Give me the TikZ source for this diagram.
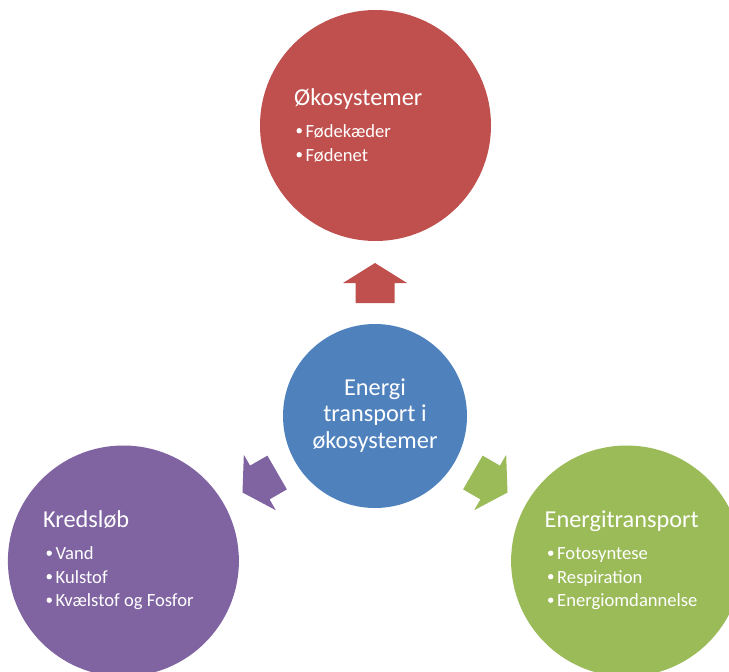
\documentclass[tikz,border=0pt]{standalone}
\usepackage{fontspec}
\setmainfont{Carlito}
\definecolor{cred}{HTML}{C0504D}
\definecolor{cblue}{HTML}{4F81BD}
\definecolor{cpurple}{HTML}{8064A2}
\definecolor{cgreen}{HTML}{9BBB59}
\begin{document}
\begin{tikzpicture}[x=1pt,y=-1pt,
  bubble/.style={circle,inner sep=0pt,outer sep=0pt,draw=none},
  bigbubble/.style={bubble,minimum size=231pt},
  ttl/.style={anchor=base west,text=white,inner sep=0pt,font=\fontsize{24.3}{27}\selectfont},
  itm/.style={anchor=base west,text=white,inner sep=0pt,font=\fontsize{18.6}{24}\selectfont},
  ctr/.style={anchor=base,text=white,inner sep=0pt,font=\fontsize{24.3}{27}\selectfont},
  dot/.style={fill=white}]
\useasboundingbox (0,0) rectangle (729,672);
\clip (0,0) rectangle (729,672);
% circles
\node[bubble,minimum size=184pt,fill=cblue] (hub) at (375,416) {};
\node[bigbubble,fill=cred] (top) at (375.5,125.5) {};
\node[bigbubble,fill=cpurple] (left) at (123.4,561) {};
\node[bigbubble,fill=cgreen] (right) at (626.6,561) {};
% block arrows
\foreach \ang/\col in {90/cred,210/cpurple,330/cgreen}{
  \begin{scope}[shift={(hub.center)},rotate=\ang]
    \fill[\col] (113,-19.5) -- (133,-19.5) -- (133,-32) -- (153,0) -- (133,32) -- (133,19.5) -- (113,19.5) -- cycle;
  \end{scope}
}
% hub text
\node[ctr] (h1) at (375,395) {Energi};
\node[ctr] (h2) at (375,421.5) {transport i};
\node[ctr] (h3) at (375,448) {økosystemer};
% top circle text
\node[ttl] (t0) at (294,105) {Økosystemer};
\node[itm] (t1) at (305.5,137) {Fødekæder};
\node[itm] (t2) at (305.5,161) {Fødenet};
% left circle text
\node[ttl] (l0) at (43,527) {Kredsløb};
\node[itm] (l1) at (55.5,559.5) {Vand};
\node[itm] (l2) at (55.5,583) {Kulstof};
\node[itm] (l3) at (55.5,606.5) {Kvælstof og Fosfor};
% right circle text
\node[ttl] (r0) at (544.5,527) {Energitransport};
\node[itm] (r1) at (557,559.5) {Fotosyntese};
\node[itm] (r2) at (557,583) {Respiration};
\node[itm] (r3) at (557,606.5) {Energiomdannelse};
% bullets
\foreach \n in {t1,t2,l1,l2,l3,r1,r2,r3}{
  \fill[dot] (\n.base west) ++(-6.3,-6.3) circle (2.7pt);
}
\end{tikzpicture}
\end{document}
